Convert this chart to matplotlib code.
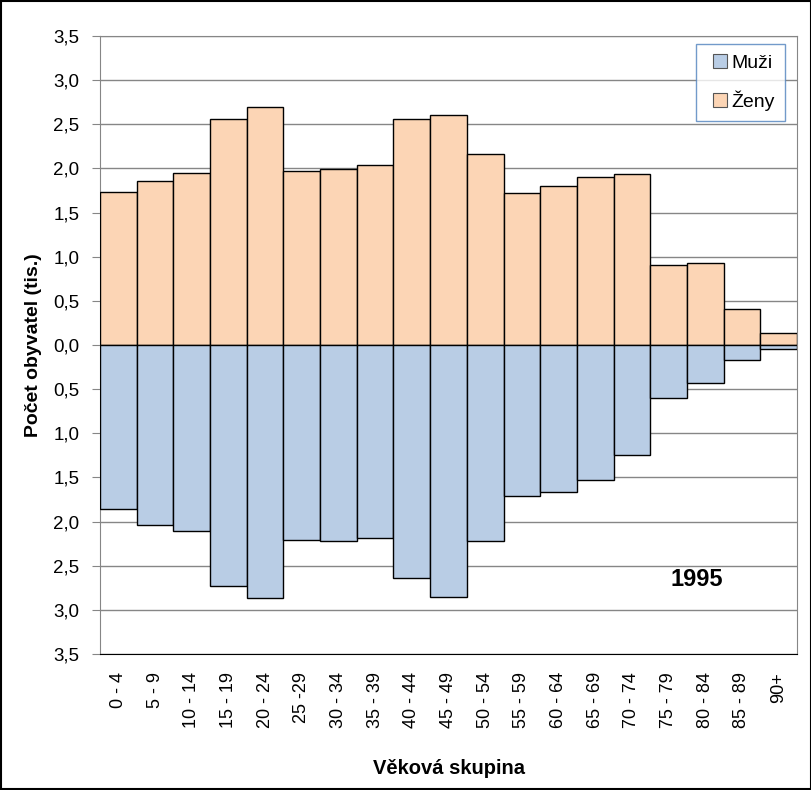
import numpy as np
import matplotlib.pyplot as plt
from matplotlib.patches import Rectangle
from matplotlib.container import BarContainer
from matplotlib.legend_handler import HandlerPatch, update_from_first_child

plt.rcParams['font.family'] = ['Liberation Sans', 'DejaVu Sans']

groups = ["0 - 4", "5 - 9", "10 - 14", "15 - 19", "20 - 24", "25 -29", "30 - 34",
          "35 - 39", "40 - 44", "45 - 49", "50 - 54", "55 - 59", "60 - 64", "65 - 69",
          "70 - 74", "75 - 79", "80 - 84", "85 - 89", "90+"]
zeny = [1.73, 1.86, 1.95, 2.56, 2.70, 1.97, 1.99, 2.04, 2.56, 2.60, 2.16, 1.72,
        1.80, 1.90, 1.94, 0.91, 0.93, 0.41, 0.14]
muzi = [1.86, 2.04, 2.11, 2.73, 2.87, 2.21, 2.22, 2.19, 2.64, 2.85, 2.22, 1.71,
        1.67, 1.53, 1.25, 0.60, 0.43, 0.17, 0.04]
rok = "1995"

c_muzi = "#b9cde5"
c_zeny = "#fcd5b5"

fig = plt.figure(figsize=(8.12, 7.90), dpi=100)
ax = fig.add_axes([0.1232, 0.1722, 0.8583, 0.7822])

x = np.arange(len(groups))
ax.bar(x, zeny, width=1.0, color=c_zeny, edgecolor="black", linewidth=1, label="Ženy", zorder=3)
ax.bar(x, [-v for v in muzi], width=1.0, color=c_muzi, edgecolor="black", linewidth=1, label="Muži", zorder=3)

ax.set_xlim(-0.5, len(groups) - 0.5)
ax.set_ylim(-3.5, 3.5)
yt = np.arange(-3.5, 3.51, 0.5)
ax.set_yticks(yt)
ax.set_yticklabels([("%.1f" % abs(v)).replace(".", ",") for v in yt], fontsize=13.5)
ax.yaxis.grid(True, color="#868686", linewidth=1, zorder=0)
ax.tick_params(axis="y", direction="out", length=6, color="#868686", pad=9)
ax.set_xticks(x)
ax.set_xticklabels(groups, rotation=90, fontsize=13, va="top")
ax.tick_params(axis="x", length=0, pad=13)
for s in ax.spines.values():
    s.set_color("#868686")
ax.spines["bottom"].set_color("black")

ax.set_ylabel("Počet obyvatel (tis.)", fontsize=14, fontweight="bold", labelpad=8)
ax.set_xlabel("Věková skupina", fontsize=14.5, fontweight="bold", labelpad=22)

ax.text(15.77, -2.66, rok, fontsize=17, fontweight="bold", ha="center", va="center")


# small square sitting at the right end of the handle box (Excel-like legend)
def square_patch(legend, orig_handle, xdescent, ydescent, width, height, fontsize):
    s = 10.0
    return Rectangle((width - xdescent - s, (height - s) / 2 - ydescent), s, s)


h, l = ax.get_legend_handles_labels()
leg = ax.legend(h[::-1], l[::-1], loc="upper right", bbox_to_anchor=(0.983, 0.987),
                fontsize=14, frameon=True, fancybox=False, handlelength=1.05,
                handleheight=0.6, handletextpad=0.2, labelspacing=0.95,
                borderpad=0.55, borderaxespad=0,
                handler_map={BarContainer: HandlerPatch(patch_func=square_patch,
                                                        update_func=update_from_first_child)})
leg.get_frame().set_edgecolor("#4f81bd")
leg.get_frame().set_linewidth(1)
for p in leg.get_patches():
    p.set_edgecolor("#555555")
    p.set_linewidth(0.8)

fig.patches.append(Rectangle((0.001, 0.001), 0.998, 0.998, transform=fig.transFigure,
                             fill=False, edgecolor="black", linewidth=1.5))

fig.savefig("out.png", dpi=100)
